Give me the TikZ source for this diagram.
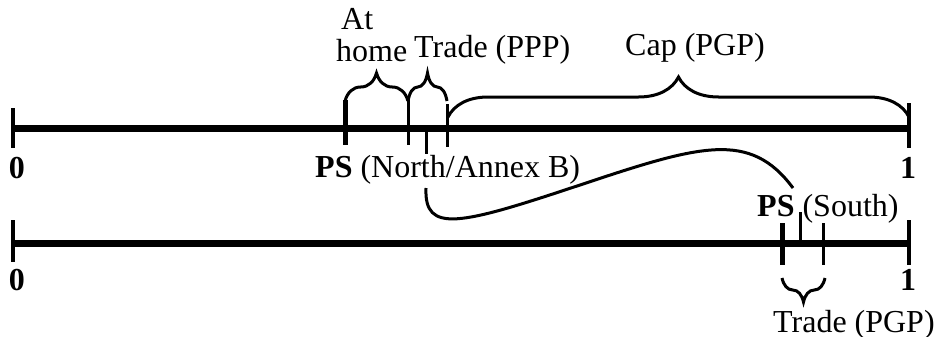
\documentclass[tikz,border=0pt]{standalone}
\usepackage{fontspec}
\setmainfont{Liberation Serif}
\usetikzlibrary{decorations.pathreplacing}
\begin{document}
\begin{tikzpicture}[x=1pt,y=-1pt,
  axis/.style={line width=7pt},
  endtick/.style={line width=4.5pt},
  thicktick/.style={line width=5pt},
  thintick/.style={line width=3pt},
  brc/.style={line width=3pt, decorate, decoration={brace, amplitude=#1}},
  lbl/.style={inner sep=0pt, font=\fontsize{32}{34}\selectfont},
  conn/.style={line width=3pt}]
\useasboundingbox (0,0) rectangle (934,337);
% top axis
\coordinate (t0) at (13,128);
\coordinate (t1) at (909,128);
\draw[axis] (t0) -- (t1);
\draw[endtick] (13,108) -- (13,148);
\draw[endtick] (909,103) -- (909,148);
\draw[thicktick] (345,100) -- (345,145);
\draw[thintick] (408,100) -- (408,145);
\draw[thintick] (426,128) -- (426,154);
\draw[thintick] (447,104) -- (447,147);
% top braces
\draw[brc=28] (345,101) -- (408,101);
\draw[brc=28] (408,101) -- (447,101);
\draw[brc=40] (448,117) -- (909,117);
% bottom axis
\coordinate (b0) at (13,243);
\coordinate (b1) at (909,243);
\draw[axis] (b0) -- (b1);
\draw[endtick] (13,220) -- (13,262);
\draw[endtick] (909,220) -- (909,265);
\draw[thicktick] (782,223) -- (782,265);
\draw[thintick] (800,212) -- (800,243);
\draw[thintick] (823,223) -- (823,265);
\draw[brc=24] (825,278) -- (782,278);
% labels
\node[lbl, anchor=base west] (at) at (341,30) {At};
\node[lbl, anchor=base west] (home) at (336,62) {home};
\node[lbl, anchor=base west] (tppp) at (414,58) {Trade (PPP)};
\node[lbl, anchor=base west] (cap) at (625,56) {Cap (PGP)};
\node[lbl, anchor=base] (z0) at (17,178) {\textbf{0}};
\node[lbl, anchor=base] (o0) at (908,178) {\textbf{1}};
\node[lbl, anchor=base] (z1) at (17,290) {\textbf{0}};
\node[lbl, anchor=base] (o1) at (908,290) {\textbf{1}};
\node[lbl, anchor=base west] (psn) at (315,177) {\textbf{PS} (North/Annex B)};
\node[lbl, anchor=base west] (pss) at (757,216) {\textbf{PS} (South)};
\node[lbl, anchor=base west] (tpgp) at (773,332) {Trade (PGP)};
% connector
\coordinate (cs) at (426,188);
\coordinate (ce) at (793,188);
\draw[conn] (cs) .. controls (424,234) and (460,225) .. (580,185)
  .. controls (700,145) and (750,130) .. (ce);
\end{tikzpicture}
\end{document}
